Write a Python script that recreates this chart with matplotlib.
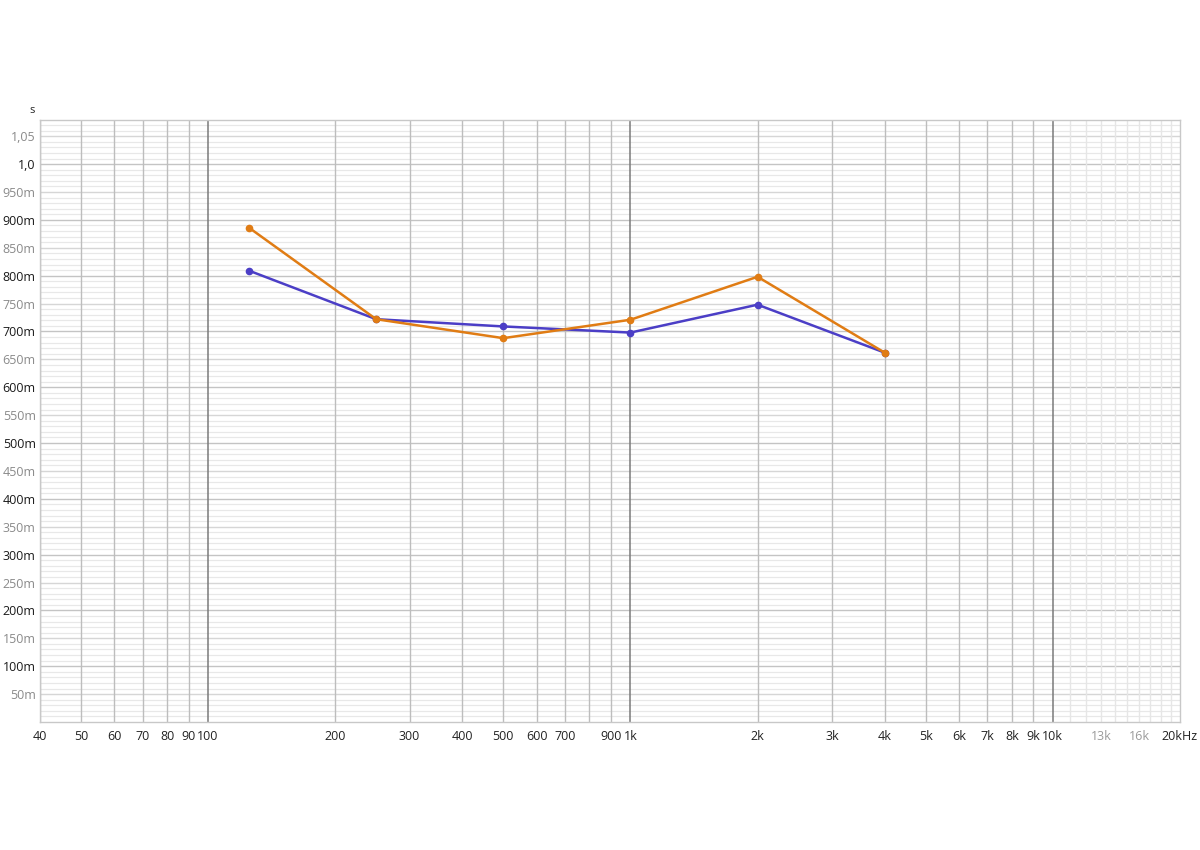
import numpy as np
import matplotlib.pyplot as plt
from matplotlib.ticker import FixedLocator, NullLocator

plt.rcParams['font.family'] = ['Open Sans', 'DejaVu Sans']

# Octave band data (s)
freqs = [125, 250, 500, 1000, 2000, 4000]
series_blue = [0.809, 0.722, 0.709, 0.698, 0.748, 0.662]
series_orange = [0.886, 0.722, 0.688, 0.721, 0.798, 0.662]

# Tick labels
x_ticks = [40, 50, 60, 70, 80, 90, 100, 200, 300, 400, 500, 600, 700, 900,
           1000, 2000, 3000, 4000, 5000, 6000, 7000, 8000, 9000, 10000,
           13000, 16000, 20000]
x_labels = ['40', '50', '60', '70', '80', '90', '100', '200', '300', '400',
            '500', '600', '700', '900', '1k', '2k', '3k', '4k', '5k', '6k',
            '7k', '8k', '9k', '10k', '13k', '16k', '20kHz']
y_ticks = [0.05, 0.1, 0.15, 0.2, 0.25, 0.3, 0.35, 0.4, 0.45, 0.5, 0.55, 0.6,
           0.65, 0.7, 0.75, 0.8, 0.85, 0.9, 0.95, 1.0, 1.05]
y_labels = ['50m', '100m', '150m', '200m', '250m', '300m', '350m', '400m',
            '450m', '500m', '550m', '600m', '650m', '700m', '750m', '800m',
            '850m', '900m', '950m', '1,0', '1,05']

fig = plt.figure(figsize=(12, 8.5), dpi=100)
ax = fig.add_axes([0.0333, 0.1506, 0.9500, 0.7082])
ax.set_xscale('log')
ax.set_xlim(40, 20000)
ax.set_ylim(0, 1.079)

# horizontal grid
for i in range(1, 108):
    v = i * 0.01
    if i % 10 == 0:
        c, lw = '#c4c4c4', 1.0
    elif i % 5 == 0:
        c, lw = '#d6d6d6', 1.0
    else:
        c, lw = '#e8e8e8', 0.9
    ax.axhline(v, color=c, lw=lw, zorder=0)

# vertical grid
for dec in [10, 100, 1000]:
    for m in range(1, 10):
        f = dec * m
        if f < 40 or f > 10000:
            continue
        if m == 1:
            c, lw = '#7a7a7a', 1.1
        else:
            c, lw = '#bdbdbd', 1.0
        ax.axvline(f, color=c, lw=lw, zorder=1)
ax.axvline(10000, color='#7a7a7a', lw=1.1, zorder=1)
for f in range(11000, 20000, 1000):
    ax.axvline(f, color='#e6e6e6', lw=1.0, zorder=1)

ax.plot(freqs, series_blue, color='#4b3ec6', lw=1.8, marker='o', ms=4.5, zorder=3)
ax.plot(freqs, series_orange, color='#e07c14', lw=1.8, marker='o', ms=4.5, zorder=4)

ax.xaxis.set_major_locator(FixedLocator(x_ticks))
ax.xaxis.set_minor_locator(NullLocator())
ax.set_xticklabels(x_labels)
ax.yaxis.set_major_locator(FixedLocator(y_ticks))
ax.yaxis.set_minor_locator(NullLocator())
ax.set_yticklabels(y_labels)
ax.tick_params(axis='both', length=0, labelsize=9, colors='#222222')
ax.tick_params(axis='x', pad=6)
ax.tick_params(axis='y', pad=3)

for lbl in ax.get_yticklabels():
    t = lbl.get_text()
    if t in ('1,0',) or (t.endswith('00m')):
        lbl.set_color('#1a1a1a')
    else:
        lbl.set_color('#8a8a8a')
for lbl in ax.get_xticklabels():
    if lbl.get_text() in ('13k', '16k'):
        lbl.set_color('#9a9a9a')

for s in ax.spines.values():
    s.set_color('#c8c8c8')
    s.set_linewidth(1.0)

fig.text(0.0333 - 0.004, 0.8700, 's', ha='right', va='center', fontsize=8, color='#222222')

fig.savefig('out.png', dpi=100, facecolor='white')
